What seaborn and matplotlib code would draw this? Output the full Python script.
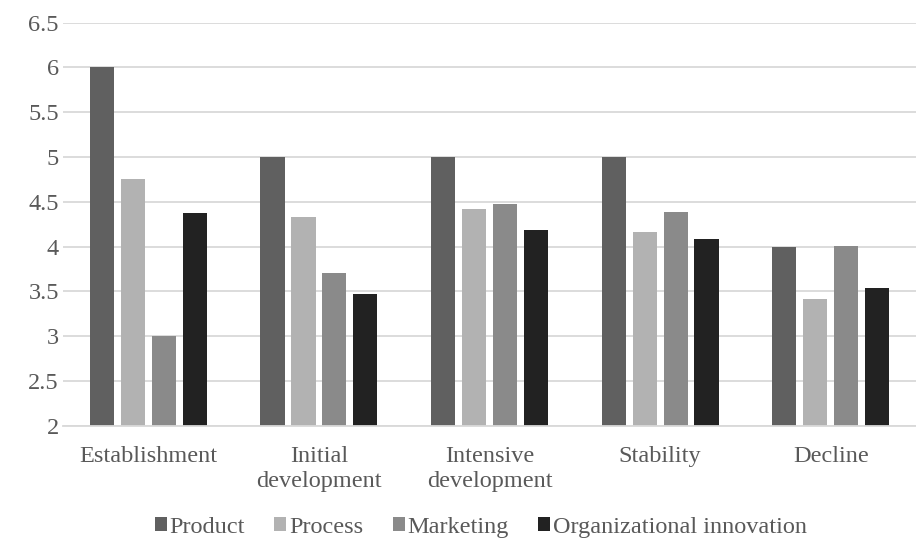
import matplotlib
matplotlib.use("Agg")
import matplotlib.pyplot as plt
import seaborn as sns
import pandas as pd

stages = ["Establishment", "Initial\ndevelopment", "Intensive\ndevelopment", "Stability", "Decline"]
series = ["Product", "Process", "Marketing", "Organizational innovation"]
product = [6.0, 5.0, 5.0, 5.0, 4.0]
process = [4.75, 4.33, 4.42, 4.16, 3.42]
marketing = [3.0, 3.70, 4.48, 4.39, 4.01]
organizational = [4.38, 3.47, 4.18, 4.08, 3.54]
yticks = [2, 2.5, 3, 3.5, 4, 4.5, 5, 5.5, 6, 6.5]
ytick_labels = ["2", "2.5", "3", "3.5", "4", "4.5", "5", "5.5", "6", "6.5"]
colors = ["#606060", "#b2b2b2", "#8a8a8a", "#222222"]

rows = []
for name, vals in zip(series, [product, process, marketing, organizational]):
    for st, v in zip(stages, vals):
        rows.append({"Stage": st, "Series": name, "Value": v})
df = pd.DataFrame(rows)

sns.set_theme(style="white")
plt.rcParams["font.family"] = ["Liberation Serif", "DejaVu Serif"]
plt.rcParams["font.serif"] = ["Liberation Serif", "DejaVu Serif"]
TXT = "#595959"
FAM = ["Liberation Serif", "DejaVu Serif"]
FS = 17.5

fig = plt.figure(figsize=(9.16, 5.45), dpi=100)
ax = fig.add_axes([0.0688, 0.219, 0.9312, 0.7393])

sns.barplot(data=df, x="Stage", y="Value", hue="Series", order=stages, hue_order=series,
            palette=colors, saturation=1, width=0.725, gap=0.22, ax=ax, legend=True,
            edgecolor="none", linewidth=0)

ax.set_ylim(2, 6.5)
ax.set_xlim(-0.5, 4.5)
ax.set_yticks(yticks)
ax.set_yticklabels(ytick_labels, fontfamily=FAM, fontsize=FS, color=TXT)
ax.set_xticks(range(len(stages)))
ax.set_xticklabels(stages, fontfamily=FAM, fontsize=FS, color=TXT, linespacing=1.2)
ax.yaxis.grid(True, color="#d9d9d9", linewidth=1.3)
ax.set_axisbelow(True)
for s in ["top", "right", "left"]:
    ax.spines[s].set_visible(False)
ax.spines["bottom"].set_color("#d9d9d9")
ax.spines["bottom"].set_linewidth(1.3)
ax.tick_params(axis="both", length=0)
ax.tick_params(axis="y", pad=3)
ax.tick_params(axis="x", pad=15)
ax.set_xlabel("")
ax.set_ylabel("")

handles, labels = ax.get_legend_handles_labels()
ax.get_legend().remove()
leg = fig.legend(handles, labels, loc="center", bbox_to_anchor=(0.525, 0.033), ncol=4,
                 frameon=False, prop={"family": FAM, "size": FS}, handlelength=0.5, handleheight=0.5,
                 handletextpad=0.12, columnspacing=1.2, borderaxespad=0)
for t in leg.get_texts():
    t.set_color(TXT)

fig.savefig("out.png", dpi=100)
